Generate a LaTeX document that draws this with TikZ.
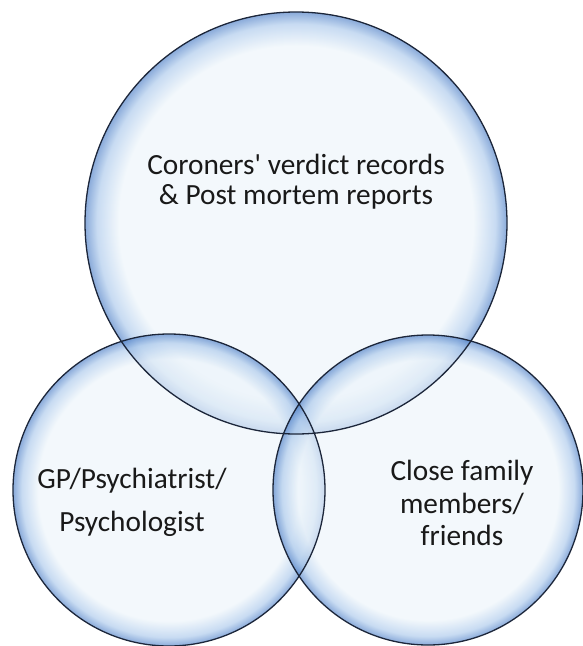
\documentclass[tikz,border=0pt]{standalone}
\usepackage{fontspec}
\setmainfont{Carlito}
\definecolor{bubin}{RGB}{236,244,250}
\definecolor{bubmid}{RGB}{170,200,235}
\definecolor{bubout}{RGB}{75,125,198}
\definecolor{rimline}{RGB}{28,38,58}
\pgfdeclareradialshading{bubble}{\pgfpoint{0bp}{0bp}}{color(0bp)=(bubin); color(21bp)=(bubin); color(23.6bp)=(bubmid); color(25bp)=(bubout); color(50bp)=(bubout)}
\tikzset{
	rim/.style={draw=rimline, line width=1.3pt},
	bubfill/.style={shading=bubble, fill opacity=0.65},
	venntext/.style={align=center, text=black!90, inner sep=0pt}
}
\begin{document}
\begin{tikzpicture}[x=1pt,y=-1pt]
	\useasboundingbox (0,0) rectangle (583,646);
	\coordinate (rec) at (296,223);
	\coordinate (gp) at (169,490);
	\coordinate (fam) at (428,490);
	\foreach \c/\r in {rec/211,gp/156,fam/155} {\shade[bubfill] (\c) circle[radius=\r];}
	\foreach \c/\r in {rec/211,gp/156,fam/155} {\draw[rim] (\c) circle[radius=\r];}
	\node[venntext, font=\fontsize{29.3}{30}\selectfont] (rectext) at (296,182)
		{Coroners\textquotesingle\ verdict records\\ \& Post mortem reports};
	\node[venntext, font=\fontsize{29.3}{43}\selectfont] (gptext) at (132,502)
		{GP/Psychiatrist/\\ Psychologist};
	\node[venntext, font=\fontsize{29.3}{32.5}\selectfont] (famtext) at (462,503)
		{Close family\\ members/\\ friends};
\end{tikzpicture}
\end{document}
